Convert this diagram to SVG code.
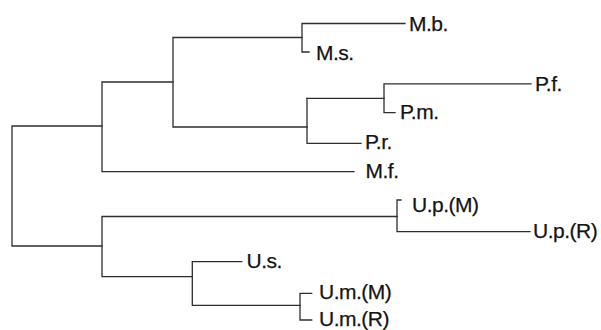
<svg xmlns="http://www.w3.org/2000/svg" width="601" height="330" viewBox="0 0 601 330">
  <style>
    .edge { fill: none; stroke: #2e2e2e; stroke-width: 1.3; stroke-linecap: square; }
    .leaf text { font-family: "Liberation Sans", Arial, Helvetica, sans-serif; font-size: 21px; letter-spacing: -0.5px; fill: #141414; stroke: #141414; stroke-width: 0.25; }
  </style>
  <rect width="601" height="330" fill="#ffffff"/>

  <!-- Branches: each fork is a vertical bar with its horizontal arms -->
  <g id="connectors">
    <!-- root -->
    <path class="edge" d="M102,126 H12 V246 H102"/>
    <!-- upper clade -->
    <path class="edge" d="M173,82 H102 V171.7 H354"/>
    <path class="edge" d="M302,37.5 H173 V127 H307"/>
    <path class="edge" d="M405,23.5 H302 V52 H309"/>
    <path class="edge" d="M307,98.3 V143.3 H361"/>
    <path class="edge" d="M531,83.8 H384 V112.7 H395"/>
    <path class="edge" d="M307,98.3 H384"/>
    <!-- lower clade -->
    <path class="edge" d="M397,216.5 H102 V276.7 H192.3"/>
    <path class="edge" d="M401,200 H397 V231.7 H530"/>
    <path class="edge" d="M241.7,261.7 H192.3 V305.3 H300"/>
    <path class="edge" d="M311.7,293.3 H300 V320 H311.7"/>
  </g>

  <!-- Taxon labels -->
  <g id="Mb" class="leaf"><text x="409" y="31">M.b.</text></g>
  <g id="Ms" class="leaf"><text x="316" y="60">M.s.</text></g>
  <g id="Pf" class="leaf"><text x="535" y="91">P.f.</text></g>
  <g id="Pm" class="leaf"><text x="400" y="119">P.m.</text></g>
  <g id="Pr" class="leaf"><text x="365" y="148.5">P.r.</text></g>
  <g id="Mf" class="leaf"><text x="365.5" y="178">M.f.</text></g>
  <g id="UpM" class="leaf"><text x="412" y="212">U.p.(M)</text></g>
  <g id="UpR" class="leaf"><text x="533" y="238">U.p.(R)</text></g>
  <g id="Us" class="leaf"><text x="246.5" y="268.3">U.s.</text></g>
  <g id="UmM" class="leaf"><text x="319" y="298.5">U.m.(M)</text></g>
  <g id="UmR" class="leaf"><text x="319" y="325.7">U.m.(R)</text></g>
</svg>
